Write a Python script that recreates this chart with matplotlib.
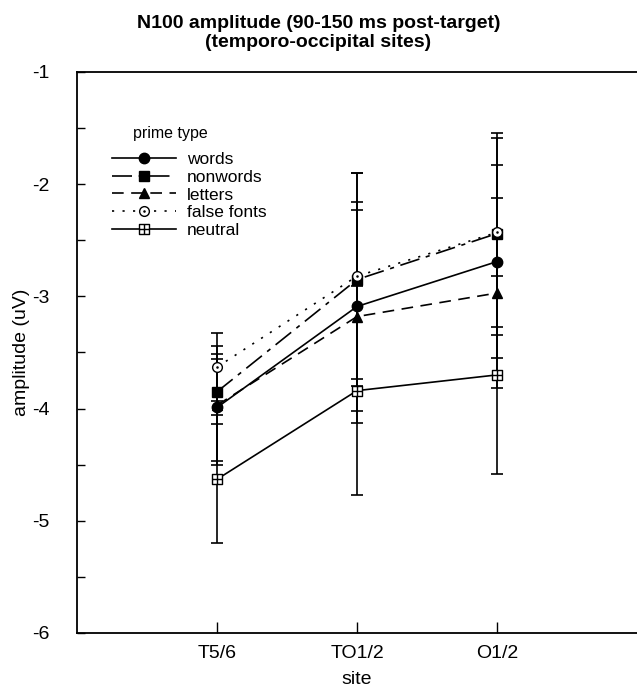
import matplotlib
matplotlib.use("Agg")
import matplotlib.pyplot as plt
from matplotlib.path import Path
import numpy as np

plt.rcParams['font.family'] = ['Liberation Sans', 'DejaVu Sans']

sites = ["T5/6", "TO1/2", "O1/2"]
series_names = ["words", "nonwords", "letters", "false fonts", "neutral"]
words = [-3.99, -3.09, -2.69]
nonwords = [-3.85, -2.85, -2.44]
letters = [-3.97, -3.18, -2.97]
false_fonts = [-3.63, -2.82, -2.43]
neutral = [-4.63, -3.84, -3.70]
words_err = [0.48, 0.93, 0.86]
nonwords_err = [0.29, 0.95, 0.90]
letters_err = [0.53, 0.95, 0.85]
false_fonts_err = [0.30, 0.92, 0.84]
neutral_err = [0.57, 0.93, 0.88]

# custom markers
sq = [(-1, -1), (1, -1), (1, 1), (-1, 1), (-1, -1)]
verts = sq + [(0, -1), (0, 1), (-1, 0), (1, 0)]
codes = [Path.MOVETO, Path.LINETO, Path.LINETO, Path.LINETO, Path.CLOSEPOLY,
         Path.MOVETO, Path.LINETO, Path.MOVETO, Path.LINETO]
sq_cross = Path(verts, codes)
outer = Path.circle((0, 0), 1.0)
inner = Path.circle((0, 0), 0.12)
circ_dot = Path.make_compound_path(outer, inner)

fig = plt.figure(figsize=(6.37, 6.92), dpi=100)
ax = fig.add_axes([0.121, 0.0853, 0.879, 0.8107])

x = np.arange(1, len(sites) + 1)

styles = [
    dict(data=words, err=words_err, ls='-', marker='o', mfc='black', ms=7.5),
    dict(data=nonwords, err=nonwords_err, ls=(0, (12, 4, 2.5, 4)), marker='s', mfc='black', ms=7),
    dict(data=letters, err=letters_err, ls=(0, (7, 4.5)), marker='^', mfc='black', ms=7.5),
    dict(data=false_fonts, err=false_fonts_err, ls=(0, (1.3, 5)), marker=circ_dot, mfc='white', ms=7),
    dict(data=neutral, err=neutral_err, ls='-', marker=sq_cross, mfc='white', ms=7),
]

for name, st in zip(series_names, styles):
    ax.errorbar(x, st['data'], yerr=st['err'], fmt='none', ecolor='black',
                elinewidth=1.2, capsize=4, capthick=1.2, zorder=2)

handles = []
for name, st in zip(series_names, styles):
    h, = ax.plot(x, st['data'], color='black', lw=1.2, ls=st['ls'],
                 marker=st['marker'], mfc=st['mfc'], mec='black', mew=1.0,
                 ms=st['ms'], label=name, zorder=3)
    handles.append(h)

ax.set_xlim(0, 4)
ax.set_ylim(-6, -1)
ax.set_xticks(x)
ax.set_xticklabels(sites, fontsize=14)
ax.set_yticks(np.arange(-6, -0.5, 1))
ax.set_yticklabels([str(v) for v in range(-6, 0)], fontsize=14)
ax.set_yticks(np.arange(-5.5, -1, 1), minor=True)
ax.tick_params(axis='y', which='both', direction='in', length=6, width=1, pad=20)
ax.tick_params(axis='x', which='major', direction='in', length=8, width=1, pad=9)
ax.tick_params(axis='x', which='minor', length=0)
ax.spines['right'].set_visible(False)
for s in ['left', 'top', 'bottom']:
    ax.spines[s].set_linewidth(1.3)

ax.set_xlabel('site', fontsize=14, labelpad=6)
ax.set_ylabel('amplitude (uV)', fontsize=14, labelpad=1)

fig.text(0.5, 0.978, 'N100 amplitude (90-150 ms post-target)\n(temporo-occipital sites)',
         ha='center', va='top', fontsize=14, fontweight='bold', linespacing=1.12)

ax.text(0.10, 0.89, 'prime type', transform=ax.transAxes, fontsize=11.5, va='center')
leg = ax.legend(handles=handles, loc='upper left', bbox_to_anchor=(0.05, 0.87),
                frameon=False, fontsize=12.5, handlelength=3.7, handletextpad=0.6,
                labelspacing=0.15, borderaxespad=0)

fig.savefig('out.png', dpi=100)
